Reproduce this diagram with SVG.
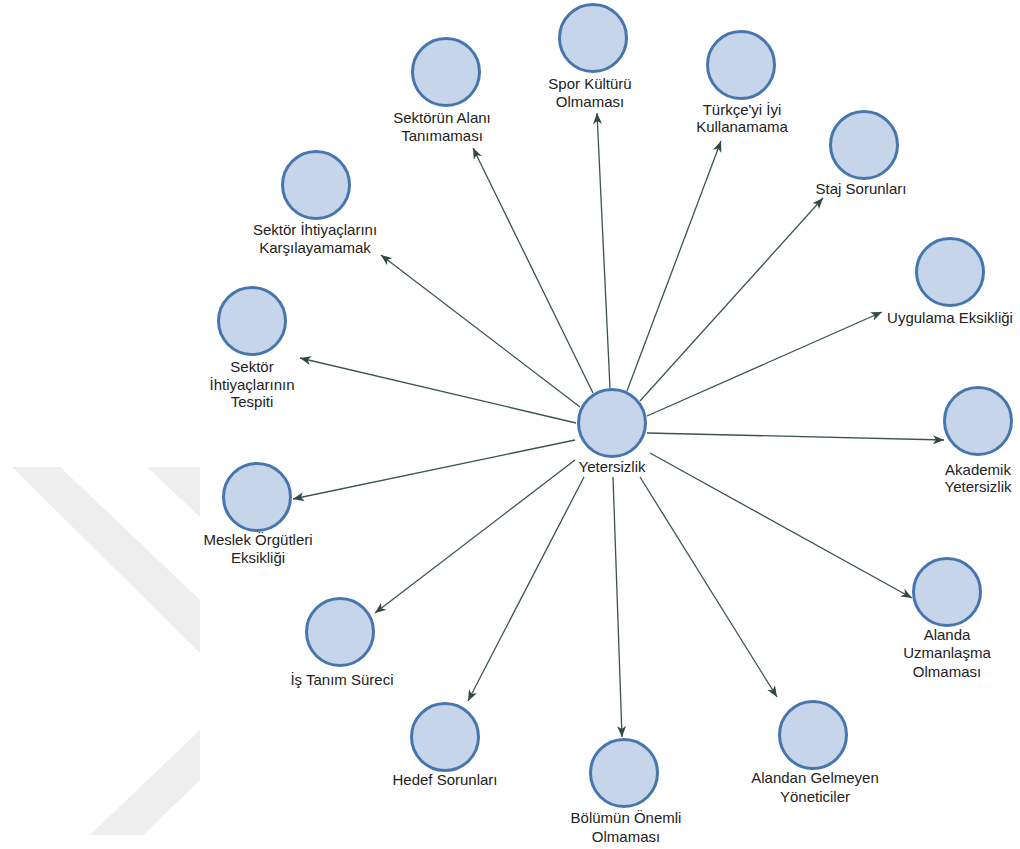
<svg xmlns="http://www.w3.org/2000/svg" width="1020" height="849" viewBox="0 0 1020 849">
  <defs>
    <style>
      .node circle { fill: #c6d5ea; stroke: #4676ad; stroke-width: 3; }
      .node text { font-family: "Liberation Sans", Arial, sans-serif; font-size: 15px; fill: #222222; text-anchor: middle; }
      .edges line { stroke: #3a5550; stroke-width: 1.3; marker-end: url(#arrow); }
      .mark { fill: #eeeeee; }
    </style>
    <marker id="arrow" markerUnits="userSpaceOnUse" markerWidth="12" markerHeight="10" viewBox="0 0 12 10" refX="11" refY="5" orient="auto">
      <path d="M0,0.5 L11,5 L0,9.5 L3,5 Z" fill="#2f4a45"/>
    </marker>
  </defs>

  <rect width="1020" height="849" fill="#ffffff"/>

  <!-- faint background emblem on the left margin -->
  <g id="emblem">
    <polygon class="mark" points="12,467 60,467 200,600 200,653"/>
    <polygon class="mark" points="147,467 200,467 200,517"/>
    <polygon class="mark" points="90,835 143,835 200,780 200,730"/>
  </g>

  <!-- connectors: all edges leave the central node -->
  <g id="edges" class="edges">
    <line x1="610" y1="388" x2="597" y2="113"/>
    <line x1="593" y1="393" x2="473" y2="148"/>
    <line x1="627" y1="391" x2="721" y2="141"/>
    <line x1="640" y1="401" x2="823" y2="198"/>
    <line x1="647" y1="416" x2="882" y2="312"/>
    <line x1="647" y1="433" x2="944" y2="440"/>
    <line x1="650" y1="453" x2="912" y2="598"/>
    <line x1="640" y1="477" x2="777" y2="697"/>
    <line x1="613" y1="477" x2="622" y2="737"/>
    <line x1="584" y1="477" x2="468" y2="701"/>
    <line x1="575" y1="460" x2="375" y2="613"/>
    <line x1="575" y1="440" x2="293" y2="499"/>
    <line x1="576" y1="423" x2="300" y2="358"/>
    <line x1="580" y1="407" x2="381" y2="255"/>
  </g>

  <g id="n-yetersizlik" class="node">
    <circle cx="612" cy="423" r="33.5"/>
    <text x="612" y="472">Yetersizlik</text>
  </g>
  <g id="n-spor" class="node">
    <circle cx="593" cy="38" r="33.5"/>
    <text x="590" y="89">Spor Kültürü</text>
    <text x="590" y="107">Olmaması</text>
  </g>
  <g id="n-sektorun-alani" class="node">
    <circle cx="446" cy="72" r="33.5"/>
    <text x="442" y="123">Sektörün Alanı</text>
    <text x="442" y="141">Tanımaması</text>
  </g>
  <g id="n-turkce" class="node">
    <circle cx="741" cy="65" r="33.5"/>
    <text x="742" y="115">Türkçe'yi İyi</text>
    <text x="742" y="132">Kullanamama</text>
  </g>
  <g id="n-staj" class="node">
    <circle cx="864" cy="145" r="33.5"/>
    <text x="861" y="194">Staj Sorunları</text>
  </g>
  <g id="n-uygulama" class="node">
    <circle cx="950" cy="272" r="33.5"/>
    <text x="950" y="323">Uygulama Eksikliği</text>
  </g>
  <g id="n-akademik" class="node">
    <circle cx="978" cy="421" r="33.5"/>
    <text x="978" y="475">Akademik</text>
    <text x="978" y="492">Yetersizlik</text>
  </g>
  <g id="n-alanda" class="node">
    <circle cx="947" cy="592" r="33.5"/>
    <text x="947" y="640">Alanda</text>
    <text x="947" y="658">Uzmanlaşma</text>
    <text x="947" y="677">Olmaması</text>
  </g>
  <g id="n-alandan" class="node">
    <circle cx="813" cy="735" r="33.5"/>
    <text x="815" y="783">Alandan Gelmeyen</text>
    <text x="815" y="802">Yöneticiler</text>
  </g>
  <g id="n-bolumun" class="node">
    <circle cx="624" cy="773" r="33.5"/>
    <text x="626" y="823">Bölümün Önemli</text>
    <text x="626" y="842">Olmaması</text>
  </g>
  <g id="n-hedef" class="node">
    <circle cx="445" cy="737" r="33.5"/>
    <text x="445" y="785">Hedef Sorunları</text>
  </g>
  <g id="n-is-tanim" class="node">
    <circle cx="340" cy="632" r="33.5"/>
    <text x="342" y="685">İş Tanım Süreci</text>
  </g>
  <g id="n-meslek" class="node">
    <circle cx="257" cy="497" r="33.5"/>
    <text x="258" y="545">Meslek Örgütleri</text>
    <text x="258" y="563">Eksikliği</text>
  </g>
  <g id="n-tespit" class="node">
    <circle cx="252" cy="321" r="33.5"/>
    <text x="252" y="372">Sektör</text>
    <text x="252" y="390">İhtiyaçlarının</text>
    <text x="252" y="407">Tespiti</text>
  </g>
  <g id="n-karsilama" class="node">
    <circle cx="316" cy="185" r="33.5"/>
    <text x="315" y="235">Sektör İhtiyaçlarını</text>
    <text x="315" y="253">Karşılayamamak</text>
  </g>
</svg>
